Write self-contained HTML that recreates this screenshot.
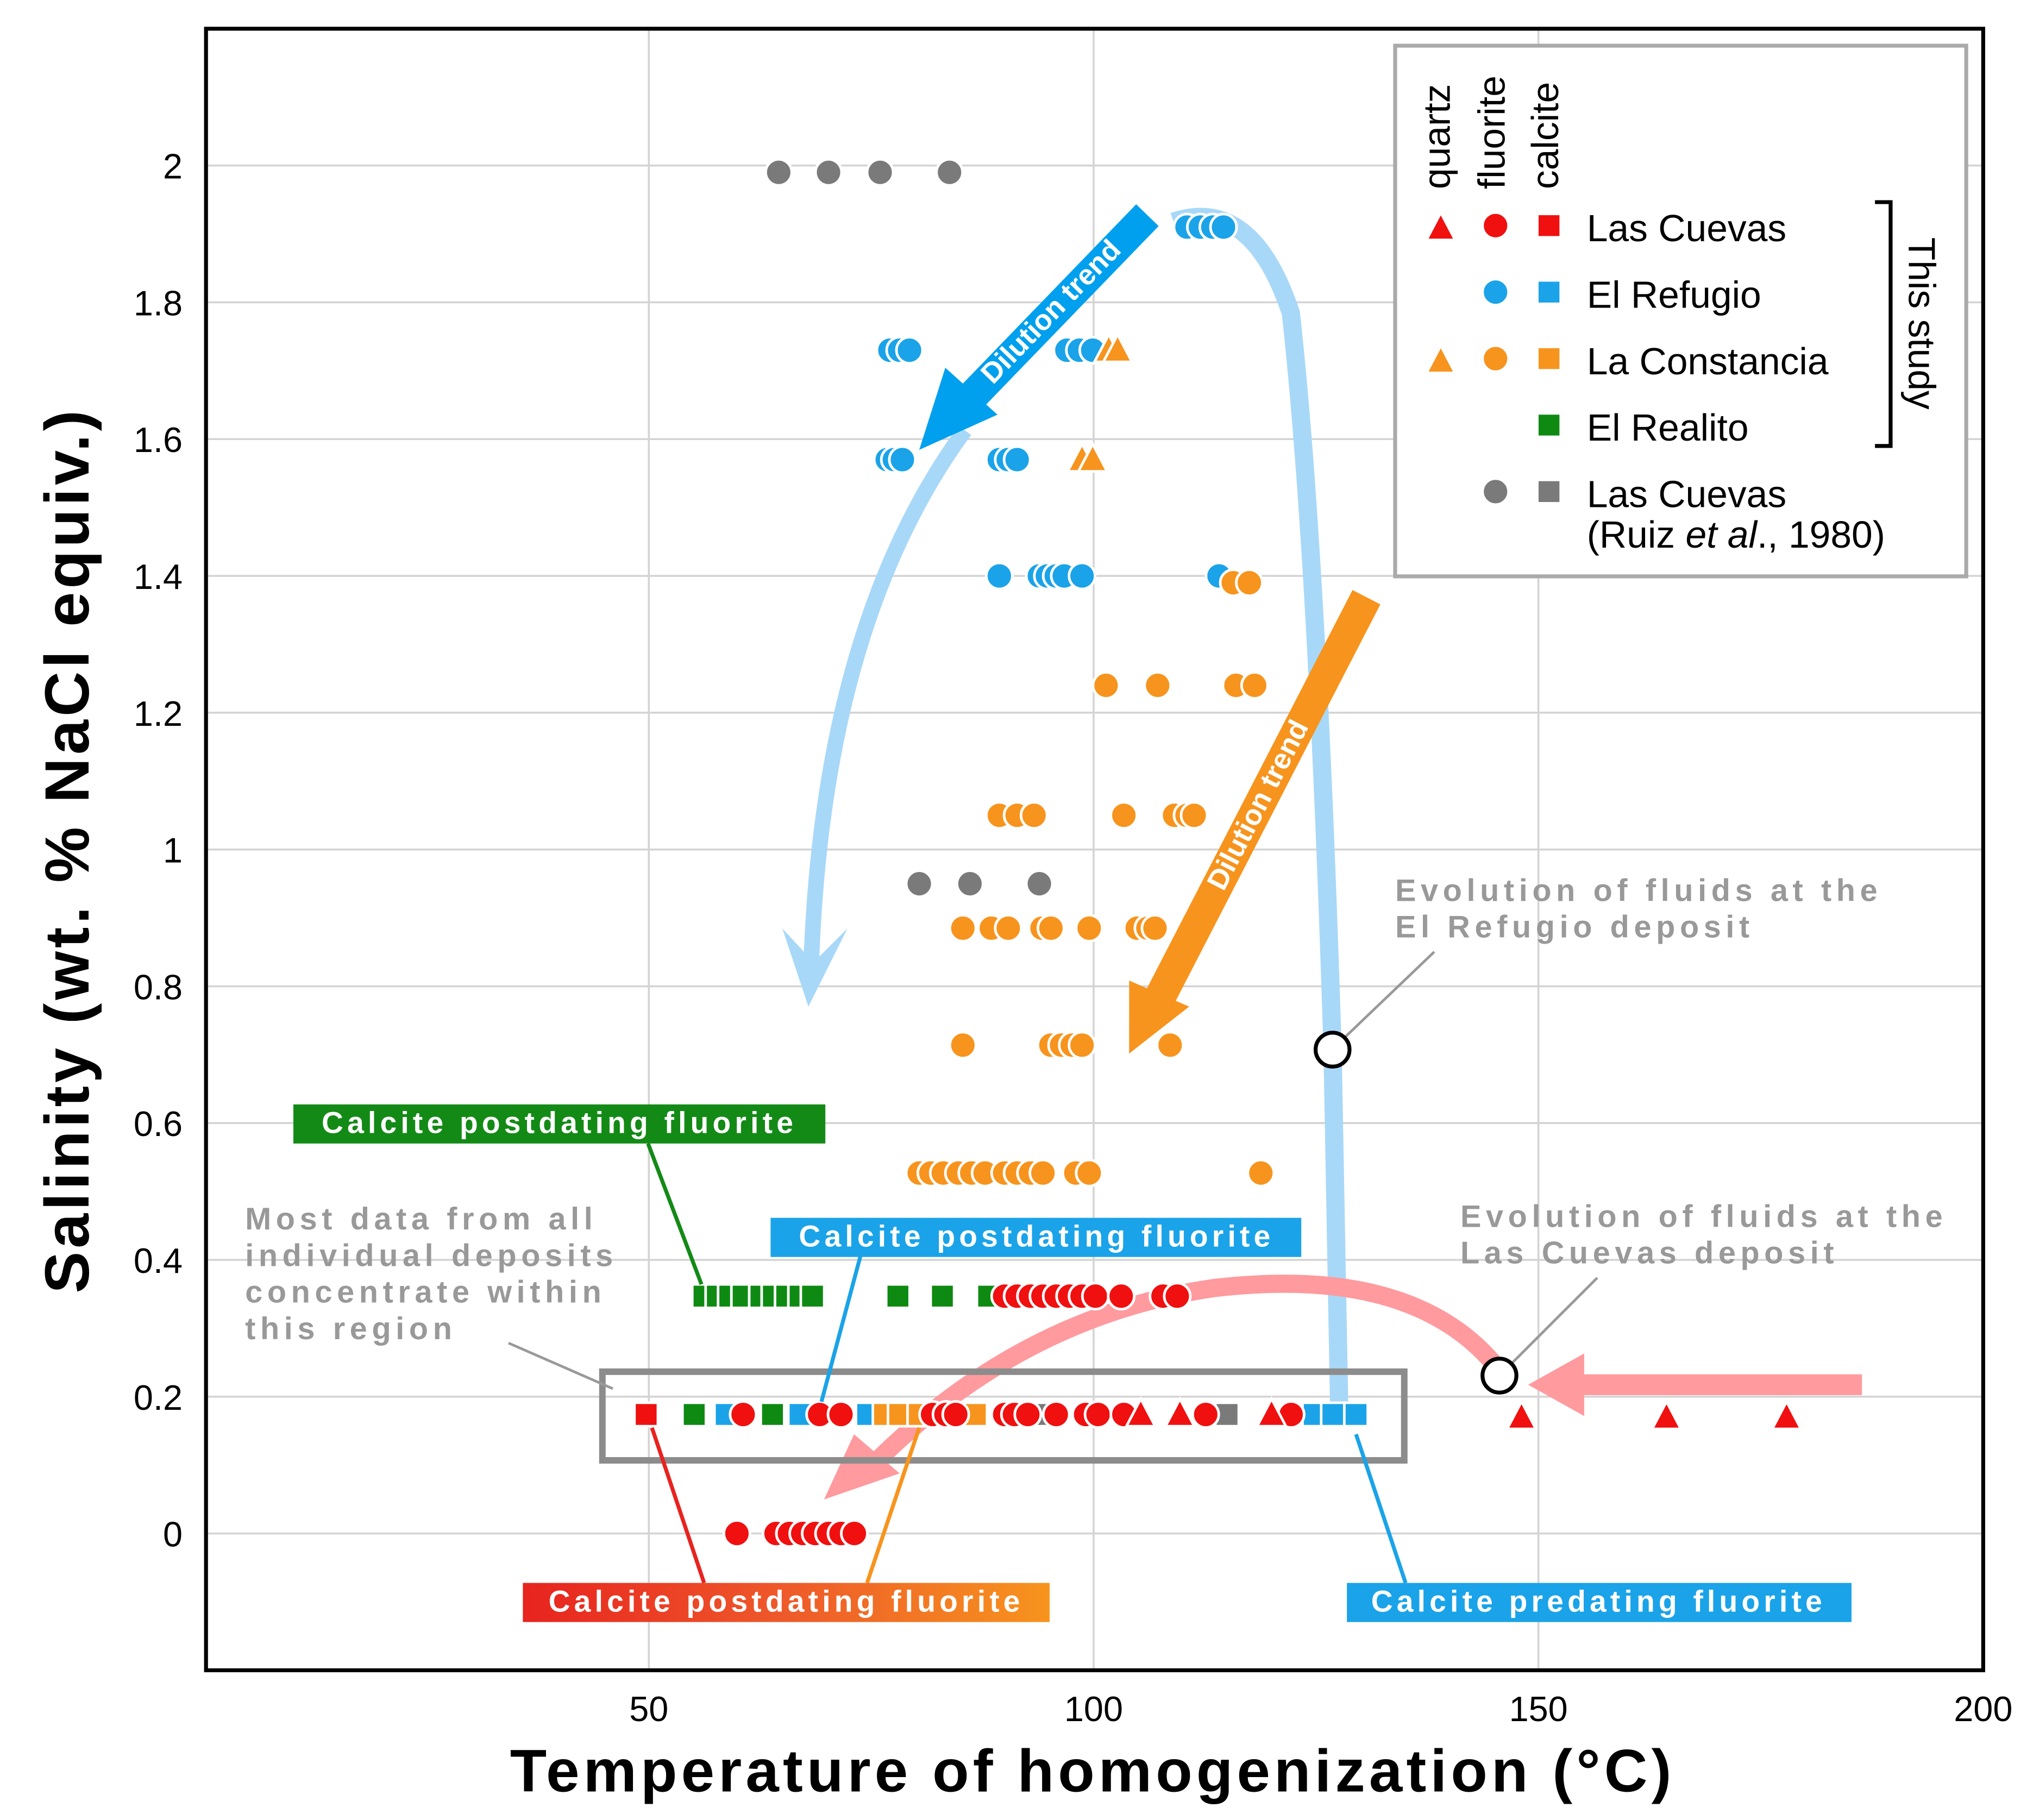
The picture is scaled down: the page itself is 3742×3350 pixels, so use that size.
<!DOCTYPE html>
<html><head><meta charset="utf-8">
<style>
html,body{margin:0;padding:0;background:#fff;}
svg{display:block;font-family:"Liberation Sans",sans-serif;}
</style></head>
<body>
<svg id="chart" width="3742" height="3350" viewBox="0 0 1559.2 1395.8" xmlns="http://www.w3.org/2000/svg">
<defs>
<linearGradient id="rg" x1="0" x2="1" y1="0" y2="0"><stop offset="0" stop-color="#e8231f"/><stop offset="0.5" stop-color="#ee5a2a"/><stop offset="1" stop-color="#f7941d"/></linearGradient>
</defs>
<g id="grid"></g>
<g id="arrows">
  <path d="M1027,1075 L1022,805 Q1010,420 990,240 Q960,150 900,170" fill="none" stroke="#a8d8f8" stroke-width="14"/>
  <path d="M740,330 Q630,480 622,745" fill="none" stroke="#a8d8f8" stroke-width="12"/>
  <path d="M600,712 L620,772 L650,712 L624,738 z" fill="#a8d8f8"/>
  <line x1="880" y1="165" x2="735" y2="315" stroke="#00a0ee" stroke-width="24"/>
  <path d="M705,345 L765,318 L725,282 z" fill="#00a0ee"/>
  <text transform="translate(807,240) rotate(-46)" text-anchor="middle" dominant-baseline="middle" font-size="22" font-weight="bold" fill="#fff">Dilution trend</text>
  <line x1="1048" y1="458" x2="888" y2="768" stroke="#f7941d" stroke-width="24"/>
  <path d="M866,808 L912,772 L866,752 z" fill="#f7941d"/>
  <text transform="translate(966,618) rotate(-62.7)" text-anchor="middle" dominant-baseline="middle" font-size="22" font-weight="bold" fill="#fff">Dilution trend</text>
  <line x1="1428" y1="1062" x2="1205" y2="1062" stroke="#ff9a9e" stroke-width="16"/>
  <path d="M1172,1062 L1215,1038 L1215,1086 z" fill="#ff9a9e"/>
  <path d="M1145,1045 Q1080,970 930,988 Q780,1010 665,1128" fill="none" stroke="#ff9a9e" stroke-width="14"/>
  <path d="M632,1150 L655,1100 L690,1130 z" fill="#ff9a9e"/>
</g>
<rect x="462" y="1052" width="615" height="68" fill="none" stroke="#8c8c8c" stroke-width="5"/>
<g id="marks"></g>
<g font-weight="bold" letter-spacing="3">
  <line x1="497" y1="877" x2="538" y2="985" stroke="#138a16" stroke-width="3"/>
  <rect x="225" y="847" width="408" height="30" fill="#138a16"/>
  <text x="429" y="869" text-anchor="middle" font-size="23" fill="#fff">Calcite postdating fluorite</text>
  <line x1="660" y1="963" x2="630" y2="1075" stroke="#1aa3e8" stroke-width="3"/>
  <rect x="591" y="934" width="407" height="30" fill="#1aa3e8"/>
  <text x="795" y="956" text-anchor="middle" font-size="23" fill="#fff">Calcite postdating fluorite</text>
  <line x1="540" y1="1214" x2="500" y2="1095" stroke="#e8231f" stroke-width="3"/>
  <line x1="665" y1="1214" x2="705" y2="1095" stroke="#f7941d" stroke-width="3"/>
  <rect x="401" y="1214" width="404" height="30" fill="url(#rg)"/>
  <text x="603" y="1236" text-anchor="middle" font-size="23" fill="#fff">Calcite postdating fluorite</text>
  <line x1="1078" y1="1214" x2="1040" y2="1100" stroke="#1aa3e8" stroke-width="3"/>
  <rect x="1033" y="1214" width="387" height="30" fill="#1aa3e8"/>
  <text x="1226" y="1236" text-anchor="middle" font-size="23" fill="#fff">Calcite predating fluorite</text>
  <g fill="#999" font-size="24" letter-spacing="3.6">
    <text x="188" y="943">Most data from all</text>
    <text x="188" y="971">individual deposits</text>
    <text x="188" y="999">concentrate within</text>
    <text x="188" y="1027">this region</text>
    <text x="1070" y="691">Evolution of fluids at the</text>
    <text x="1070" y="719">El Refugio deposit</text>
    <text x="1120" y="941">Evolution of fluids at the</text>
    <text x="1120" y="969">Las Cuevas deposit</text>
  </g>
  <line x1="390" y1="1030" x2="470" y2="1065" stroke="#999" stroke-width="2"/>
  <line x1="1100" y1="730" x2="1032" y2="795" stroke="#999" stroke-width="2"/>
  <line x1="1225" y1="980" x2="1160" y2="1045" stroke="#999" stroke-width="2"/>
  <circle cx="1022" cy="805" r="13" fill="#fff" stroke="#000" stroke-width="3"/>
  <circle cx="1150" cy="1055" r="13" fill="#fff" stroke="#000" stroke-width="3"/>
</g>
<rect x="158" y="22" width="1363" height="1259" fill="none" stroke="#000" stroke-width="3"/>
<g id="ticks" font-size="27" fill="#000"></g>
<text x="838" y="1374" text-anchor="middle" font-size="46" font-weight="bold" letter-spacing="3">Temperature of homogenization (°C)</text>
<text transform="translate(68,652) rotate(-90)" text-anchor="middle" font-size="48" font-weight="bold" letter-spacing="2.5">Salinity (wt. % NaCl equiv.)</text>
<g>
  <rect x="1070" y="35" width="438" height="407" fill="#fff" stroke="#aaa" stroke-width="3"/>
  <g font-size="29">
    <text transform="translate(1112,145) rotate(-90)">quartz</text>
    <text transform="translate(1154,145) rotate(-90)">fluorite</text>
    <text transform="translate(1195,145) rotate(-90)">calcite</text>
    <text x="1217" y="185">Las Cuevas</text>
    <text x="1217" y="236">El Refugio</text>
    <text x="1217" y="287">La Constancia</text>
    <text x="1217" y="338">El Realito</text>
    <text x="1217" y="389">Las Cuevas</text>
    <text x="1217" y="420">(Ruiz <tspan font-style="italic">et al</tspan>., 1980)</text>
    <text transform="translate(1464,248) rotate(90)" text-anchor="middle">This study</text>
  </g>
  <path d="M1438,155 H1450 V342 H1438" fill="none" stroke="#000" stroke-width="3"/>
  <g id="legendMarks"></g>
</g>
</svg>
<script>
// axis domain
const xMin = 0, xMax = 200, yMin = -0.2, yMax = 2.2;
const xTicks = [50, 100, 150, 200];
const yTicks = [0, 0.2, 0.4, 0.6, 0.8, 1, 1.2, 1.4, 1.6, 1.8, 2];
const yTickLabels = ["0","0.2","0.4","0.6","0.8","1","1.2","1.4","1.6","1.8","2"];

// Las Cuevas (this study)
const redCircT = [90,91.4,92.9,94.3,95.8,97.3,98.7,100.2,103.1,107.8,109.4, 60.6,69.2,71.6,81.9,83.4,84.5,90,91.1,92.6,95.8,99.1,100.5,103.4,112.6,122.2, 59.9,64.3,65.8,67.3,68.7,70.2,71.6,73.1];
const redCircS = [0.347,0.347,0.347,0.347,0.347,0.347,0.347,0.347,0.347,0.347,0.347, 0.174,0.174,0.174,0.174,0.174,0.174,0.174,0.174,0.174,0.174,0.174,0.174,0.174,0.174,0.174, 0,0,0,0,0,0,0,0];
const redTriT = [105.3,109.7,120,148.1,164.4,177.9];
const redTriS = [0.174,0.174,0.174,0.17,0.17,0.17];
const redSqT = [49.7];
const redSqS = [0.174];
// El Refugio
const blueCircT = [110.5,112,113.4,114.6, 77.1,78.2,79.3,97,98.4,99.9, 76.8,77.6,78.5,89.4,90.4,91.4, 89.4,93.9,94.8,95.8,96.7,98.7,114.1];
const blueCircS = [1.91,1.91,1.91,1.91, 1.73,1.73,1.73,1.73,1.73,1.73, 1.57,1.57,1.57,1.57,1.57,1.57, 1.40,1.40,1.40,1.40,1.40,1.40,1.40];
const blueSqT = [58.7,67,74.6,124.8,126.9,129.5];
const blueSqS = [0.174,0.174,0.174,0.174,0.174,0.174];
// La Constancia
const orCircT = [115.7,117.5, 101.4,107.2,116,118.1, 89.4,91.4,93.3,103.4,109.1,110.5,111.3, 85.3,88.5,90.4,94.2,95.2,99.5,104.9,106.1,106.9, 85.3,95.2,96.4,97.6,98.7,108.6, 80.4,81.7,83.1,84.8,86.3,87.8,90,91.4,92.9,94.3,98,99.5,118.8];
const orCircS = [1.39,1.39, 1.24,1.24,1.24,1.24, 1.05,1.05,1.05,1.05,1.05,1.05,1.05, 0.885,0.885,0.885,0.885,0.885,0.885,0.885,0.885,0.885, 0.714,0.714,0.714,0.714,0.714,0.714, 0.527,0.527,0.527,0.527,0.527,0.527,0.527,0.527,0.527,0.527,0.527,0.527,0.527];
const orTriT = [101.7,102.7,98.7,99.9];
const orTriS = [1.73,1.73,1.57,1.57];
const orSqT = [76.5,78.2,80.4,86.7];
const orSqS = [0.174,0.174,0.174,0.174];
// El Realito
const grSqT = [56.2,57.7,59.1,60.6,62.6,64,65.5,67,68.4,78,83,88.2,95.8, 55.1,63.9];
const grSqS = [0.347,0.347,0.347,0.347,0.347,0.347,0.347,0.347,0.347,0.347,0.347,0.347,0.347, 0.174,0.174];
// Ruiz et al. 1980
const grayCircT = [64.6,70.2,76,83.8,80.4,86.1,93.9];
const grayCircS = [1.99,1.99,1.99,1.99,0.95,0.95,0.95];
const graySqT = [94.3,115];
const graySqS = [0.174,0.174];

const L = 156.5, R = 1521, T = 22, B = 1281;
function xs(v){ return L + (v - xMin) / (xMax - xMin) * (R - L); }
function ys(v){ return B - (v - yMin) / (yMax - yMin) * (B - T); }
const NS = "http://www.w3.org/2000/svg";
function mk(tag, parent){ const e = document.createElementNS(NS, tag); parent.appendChild(e); return e; }

const grid = document.getElementById('grid');
xTicks.forEach(t => {
  const l = mk('line', grid);
  
  
  l.setAttribute('x1', xs(t)); l.setAttribute('x2', xs(t)); l.setAttribute('y1', T); l.setAttribute('y2', B);
  l.setAttribute('stroke', '#d4d4d4'); l.setAttribute('stroke-width', '1.5');
});
yTicks.forEach(t => {
  const l = mk('line', grid);
  
  
  l.setAttribute('x1', L); l.setAttribute('x2', R); l.setAttribute('y1', ys(t)); l.setAttribute('y2', ys(t));
  l.setAttribute('stroke', '#d4d4d4'); l.setAttribute('stroke-width', '1.5');
});
const ticks = document.getElementById('ticks');
xTicks.forEach(t => {
  const e = mk('text', ticks);
  
  
  e.setAttribute('x', xs(t)); e.setAttribute('y', 1320); e.setAttribute('text-anchor', 'middle');
  e.textContent = String(t);
});
yTicks.forEach((t, i) => {
  const e = mk('text', ticks);
  
  
  e.setAttribute('x', 140); e.setAttribute('y', ys(t) + 10); e.setAttribute('text-anchor', 'end');
  e.textContent = yTickLabels[i];
});

const marks = document.getElementById('marks');
function circle(g, x, y, c){
  const e = mk('circle', g);
  
  
  e.setAttribute('cx', x); e.setAttribute('cy', y); e.setAttribute('r', 10);
  e.setAttribute('fill', c); e.setAttribute('stroke', '#fff'); e.setAttribute('stroke-width', '2');
}
function square(g, x, y, c){
  const e = mk('rect', g);
  
  
  e.setAttribute('x', x - 9); e.setAttribute('y', y - 9); e.setAttribute('width', 18); e.setAttribute('height', 18);
  e.setAttribute('fill', c); e.setAttribute('stroke', '#fff'); e.setAttribute('stroke-width', '2');
}
function tri(g, x, y, c){
  const e = mk('path', g);
  
  
  e.setAttribute('d', `M${x},${y-12} L${x+11},${y+9} L${x-11},${y+9} z`);
  e.setAttribute('fill', c); e.setAttribute('stroke', '#fff'); e.setAttribute('stroke-width', '2');
}
function series(fn, tx, sy, c){ tx.forEach((t, i) => fn(marks, xs(t), ys(sy[i]), c)); }
const RED = '#f01010', BLUE = '#1aa3e8', OR = '#f7941d', GR = '#0e8a12', GY = '#7a7a7a';
series(square, grSqT, grSqS, GR);
series(circle, grayCircT, grayCircS, GY);
series(square, graySqT, graySqS, GY);
series(circle, blueCircT, blueCircS, BLUE);
series(square, blueSqT, blueSqS, BLUE);
series(circle, orCircT, orCircS, OR);
series(tri, orTriT, orTriS, OR);
series(square, orSqT, orSqS, OR);
series(circle, redCircT, redCircS, RED);
series(tri, redTriT, redTriS, RED);
series(square, redSqT, redSqS, RED);

const lm = document.getElementById('legendMarks');
tri(lm, 1105, 175, RED); circle(lm, 1147, 173, RED); square(lm, 1188, 173, RED);
circle(lm, 1147, 224, BLUE); square(lm, 1188, 224, BLUE);
tri(lm, 1105, 277, OR); circle(lm, 1147, 275, OR); square(lm, 1188, 275, OR);
square(lm, 1188, 326, GR);
circle(lm, 1147, 377, GY); square(lm, 1188, 377, GY);
</script>
</body></html>
